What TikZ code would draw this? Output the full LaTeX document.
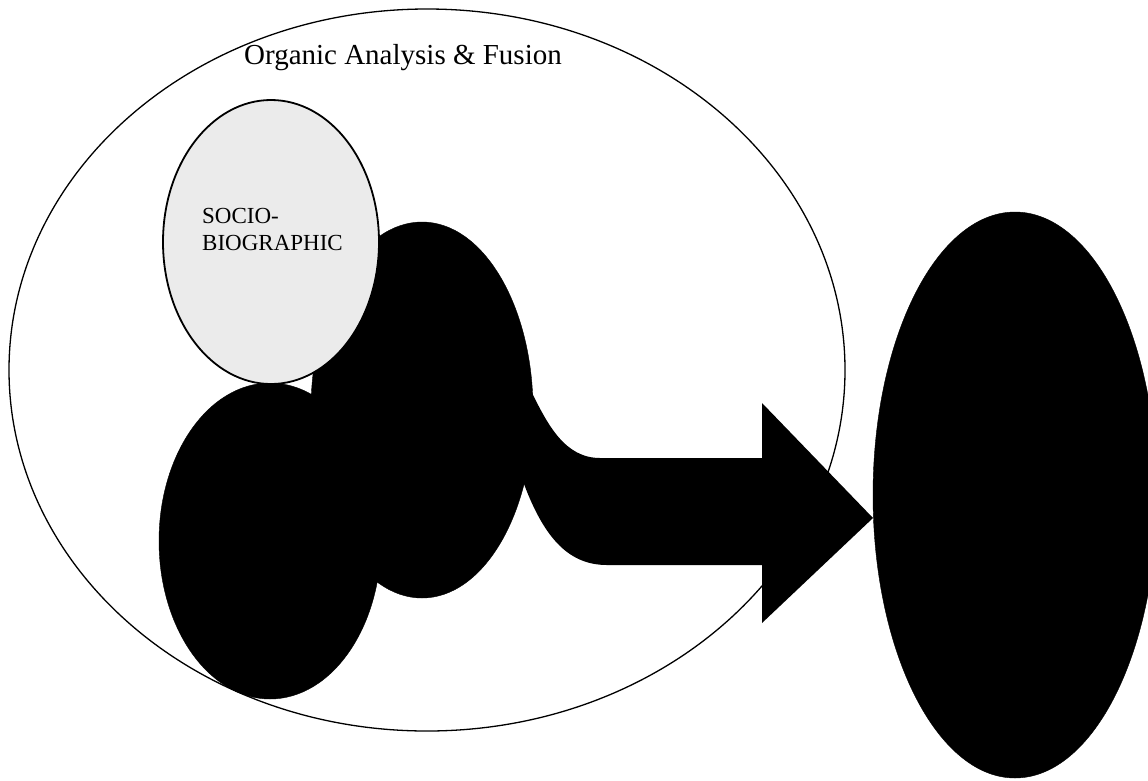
\documentclass[tikz,border=0pt]{standalone}
\usepackage{fontspec}
\setmainfont{Liberation Serif}
\begin{document}
\begin{tikzpicture}[x=1pt,y=-1pt,
  outline/.style={draw=black,line width=1.3pt},
  blackblob/.style={fill=black,draw=black},
  textbig/.style={font=\fontsize{29}{34}\selectfont},
  textmid/.style={font=\fontsize{23}{27}\selectfont,align=left}]
\useasboundingbox[fill=white] (0,0) rectangle (1148,780);
% outer ellipse
\draw[outline,fill=white] (427,370) ellipse [x radius=418, y radius=361];
\node[textbig,anchor=base west,inner sep=0pt] (title) at (244,64) {Organic Analysis \& Fusion};
% black ellipses
\fill[blackblob] (422,410) ellipse [x radius=111, y radius=188];
\fill[blackblob] (270,541) ellipse [x radius=111, y radius=158];
% arrow
\fill[black] (490,380) -- (532,393) .. controls (548,425) and (565,458) .. (600,458)
  -- (762,458) -- (762,403) -- (873,518) -- (762,623) -- (762,565) -- (607,565)
  .. controls (570,565) and (545,540) .. (524,484) -- (490,480) -- cycle;
% right ellipse
\fill[blackblob] (1015,495) ellipse [x radius=142, y radius=283];
% socio-biographic ellipse
\draw[line width=1.8pt,fill=black!8] (271,242) ellipse [x radius=108, y radius=142];
\node[textmid,anchor=north west,inner sep=0pt] (socio) at (202,208) {SOCIO-\\BIOGRAPHIC};
\end{tikzpicture}
\end{document}
